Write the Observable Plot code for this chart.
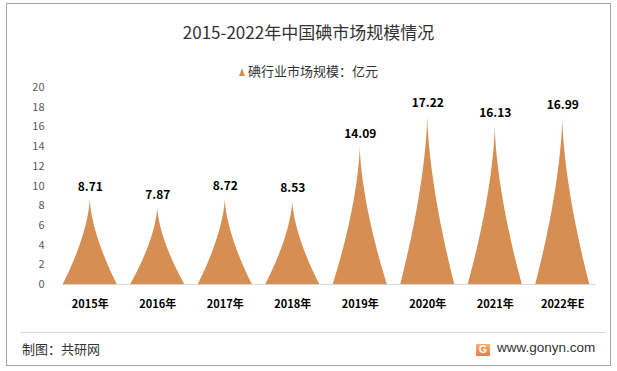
<!DOCTYPE html>
<html><head><meta charset="utf-8">
<script src="https://cdn.jsdelivr.net/npm/d3@7"></script>
<script src="https://cdn.jsdelivr.net/npm/@observablehq/plot@0.6"></script>
<style>
html,body{margin:0;padding:0;background:#fff;}
#wrap{position:relative;width:617px;height:371px;overflow:hidden;font-family:"Noto Sans CJK SC","Noto Sans",sans-serif;}
#frame{position:absolute;left:6px;top:3px;width:603px;height:361px;border:1px solid #a6a6a6;box-sizing:content-box;}
#title{position:absolute;left:0;width:617px;top:19px;text-align:center;font-size:17px;color:#333;}
#legend{position:absolute;left:0;width:617px;top:61px;text-align:center;font-size:13px;color:#333;}
#legend .tri{display:inline-block;width:0;height:0;border-left:3.5px solid transparent;border-right:3.5px solid transparent;border-bottom:8px solid #D68E52;margin-right:3px;vertical-align:0px;}
#sep{position:absolute;left:20px;width:585px;top:332px;height:1px;background:#d9d9d9;}
#src{position:absolute;left:22px;top:339px;font-size:13px;color:#333;}
#site{position:absolute;left:476px;top:339px;font-size:13.5px;color:#333;font-family:"Liberation Sans",Arial,sans-serif;line-height:18px;}
#logo{display:inline-block;width:14px;height:12px;background:linear-gradient(#f8b070,#f37a3a);color:#fff;font-size:10px;line-height:12px;text-align:center;font-weight:bold;vertical-align:-1px;margin-right:7px;border-radius:1px;}
#chart{position:absolute;left:0;top:0;}
</style></head>
<body><div id="wrap">
<div id="frame"></div>
<div id="chart"></div>
<div id="title">2015-2022年中国碘市场规模情况</div>
<div id="legend"><span class="tri"></span>碘行业市场规模：亿元</div>
<div id="sep"></div>
<div id="src">制图：共研网</div>
<div id="site"><span id="logo">G</span>www.gonyn.com</div>
</div>
<script>
const years = ["2015年","2016年","2017年","2018年","2019年","2020年","2021年","2022年E"];
const values = [8.71, 7.87, 8.72, 8.53, 14.09, 17.22, 16.13, 16.99];
const yTicks = [0,2,4,6,8,10,12,14,16,18,20];

// spike geometry (concave sides), in category-index units
const pad = 0.1, steps = 40, power = 1.6;
const pts = [];
years.forEach((yr, i) => {
  const c = i + 0.5, hw = 0.5 - pad, h = values[i];
  const left = [], right = [];
  for (let k = 0; k <= steps; k++) {
    const s = k / steps;             // height fraction
    const u = Math.pow(1 - s, power); // half-width fraction
    left.push({cat: yr, x: c - u * hw, y: h * s});
    right.unshift({cat: yr, x: c + u * hw, y: h * s});
  }
  pts.push(...left, ...right.slice(1));
});
const labels = years.map((yr, i) => ({cat: yr, x: i + 0.5, v: values[i]}));

const chart = Plot.plot({
  width: 617, height: 371,
  marginLeft: 56, marginRight: 21, marginTop: 87, marginBottom: 87,
  style: {fontFamily: '"Noto Sans CJK SC","Noto Sans",sans-serif', background: "transparent"},
  x: {domain: [0, years.length], ticks: years.map((d, i) => i + 0.5), tickFormat: (d) => years[Math.round(d - 0.5)], tickSize: 0, tickPadding: 16, label: null},
  y: {domain: [0, 20], ticks: yTicks, tickSize: 0, tickPadding: 12, label: null},
  marks: [
    Plot.areaY(pts, {x: "x", y: "y", z: "cat", fill: "#D68E52", curve: "linear"}),
    Plot.ruleY([0], {x1: 0.1, x2: years.length, stroke: "#d9d9d9"}),
    Plot.text(labels, {x: "x", y: "v", text: (d) => d.v.toFixed(2), dy: -12, fontSize: 12, fontWeight: "bold", fill: "#000"})
  ]
});
document.getElementById("chart").appendChild(chart);
// style axes
chart.querySelectorAll('[aria-label="y-axis tick label"] text, [aria-label="y-axis tick label"]').forEach(e => {e.setAttribute("fill", "#595959"); e.style.fontSize = "11px";});
chart.querySelectorAll('[aria-label="x-axis tick label"]').forEach(e => {e.setAttribute("fill", "#000"); e.style.fontSize = "11px"; e.style.fontWeight = "bold";});
</script>
</body></html>
